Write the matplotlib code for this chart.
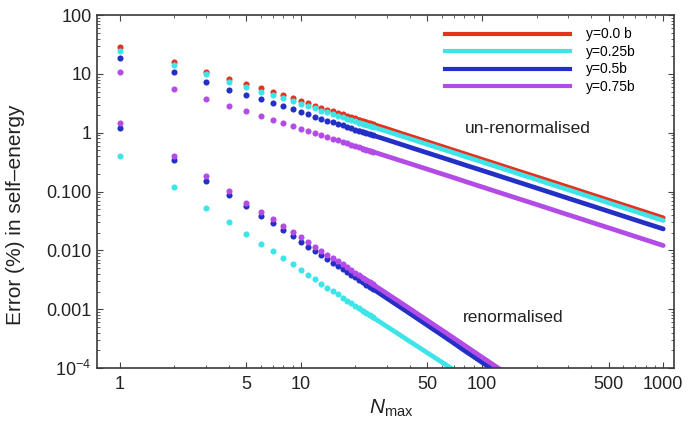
import numpy as np
import matplotlib
matplotlib.use("Agg")
import matplotlib.pyplot as plt
from matplotlib.lines import Line2D
from matplotlib.ticker import FixedLocator, FixedFormatter, NullFormatter

plt.rcParams['font.family'] = ['Liberation Sans', 'DejaVu Sans']
plt.rcParams['mathtext.fontset'] = 'custom'
plt.rcParams['mathtext.rm'] = 'Liberation Sans'
plt.rcParams['mathtext.it'] = 'Liberation Sans:italic'

# N values (every integer up to 25, then sampled)
n_max = [1, 2, 3, 4, 5, 6, 7, 8, 9, 10, 11, 12, 13, 14, 15, 16, 17, 18, 19, 20,
         21, 22, 23, 24, 25, 30, 35, 40, 50, 60, 70, 80, 100, 120, 150, 200,
         300, 500, 700, 1000]

# un-renormalised error (%)
unren_y00 = [28.2, 15.9, 11.0, 8.2, 6.7, 5.7, 4.9, 4.31, 3.84, 3.46, 3.15, 2.89,
             2.67, 2.48, 2.32, 2.17, 2.05, 1.94, 1.84, 1.75, 1.67, 1.59, 1.52,
             1.46, 1.40, 1.17, 1.00, 0.877, 0.703, 0.587, 0.503, 0.441, 0.353,
             0.295, 0.236, 0.178, 0.119, 0.0714, 0.0511, 0.0358]
unren_y025 = [24.7, 14.1, 10.0, 7.3, 6.0, 5.0, 4.4, 3.86, 3.44, 3.10, 2.82, 2.59,
              2.39, 2.22, 2.08, 1.95, 1.83, 1.73, 1.64, 1.56, 1.49, 1.42, 1.36,
              1.30, 1.25, 1.05, 0.90, 0.79, 0.634, 0.53, 0.455, 0.398, 0.319,
              0.266, 0.213, 0.160, 0.107, 0.0643, 0.0459, 0.0322]
unren_y05 = [19.0, 10.6, 7.2, 5.4, 4.4, 3.7, 3.2, 2.81, 2.50, 2.25, 2.05, 1.88,
             1.74, 1.61, 1.51, 1.41, 1.33, 1.26, 1.19, 1.13, 1.08, 1.03, 0.984,
             0.943, 0.906, 0.756, 0.649, 0.568, 0.455, 0.380, 0.326, 0.285,
             0.229, 0.191, 0.153, 0.115, 0.0767, 0.0462, 0.0330, 0.0232]
unren_y075 = [10.9, 5.6, 3.8, 2.9, 2.36, 1.94, 1.68, 1.47, 1.31, 1.18, 1.07,
              0.985, 0.910, 0.845, 0.790, 0.740, 0.697, 0.658, 0.624, 0.593,
              0.565, 0.540, 0.516, 0.495, 0.475, 0.397, 0.341, 0.299, 0.240,
              0.200, 0.172, 0.150, 0.120, 0.100, 0.0802, 0.0603, 0.0402,
              0.0242, 0.0173, 0.0121]

# renormalised error (%), values far below 1e-4 are off the axis
ren_y025 = [0.41, 0.119, 0.052, 0.030, 0.019, 0.0131, 0.0098, 0.00737, 0.00580,
            0.00468, 0.00385, 0.00322, 0.00273, 0.00234, 0.00204, 0.00179,
            0.00158, 0.00140, 0.00126, 0.00114, 0.00103, 0.000940, 0.000860,
            0.000789, 0.000727, 0.000504, 0.000370, 0.000283, 0.000181,
            0.000126, 9.25e-5, 7.08e-5, 4.53e-5, 3.1e-5, 2.0e-5, 1.1e-5,
            5e-6, 2e-6, 1e-6, 5e-7]
ren_y05 = [1.21, 0.34, 0.152, 0.088, 0.056, 0.039, 0.0287, 0.0220, 0.0174,
           0.0141, 0.01163, 0.00976, 0.00830, 0.00714, 0.00620, 0.00545,
           0.00482, 0.00430, 0.00385, 0.00347, 0.00314, 0.00286, 0.00261,
           0.00240, 0.00221, 0.00152, 0.00111, 0.000845, 0.000532, 0.000365,
           0.000264, 0.000198, 0.000125, 8.61e-5, 5.47e-5, 3.0e-5, 1.3e-5,
           4.5e-6, 2.3e-6, 1.1e-6]
ren_y075 = [1.47, 0.40, 0.183, 0.103, 0.064, 0.045, 0.034, 0.0261, 0.0206,
            0.0167, 0.0138, 0.0116, 0.00988, 0.00852, 0.00742, 0.00652,
            0.00578, 0.00515, 0.00462, 0.00416, 0.00377, 0.00343, 0.00314,
            0.00288, 0.00265, 0.00183, 0.00134, 0.00102, 0.000644, 0.000443,
            0.000322, 0.000244, 0.000153, 0.000105, 6.67e-5, 3.7e-5, 1.6e-5,
            5.6e-6, 2.8e-6, 1.4e-6]

labels = ['y=0.0 b', 'y=0.25b', 'y=0.5b', 'y=0.75b']
colors = ['#e5321f', '#3fe4e8', '#2330c6', '#b34be6']

y_ticks = [1e-4, 1e-3, 1e-2, 1e-1, 1, 10, 100]
y_ticklabels = ['$10^{-4}$', '0.001', '0.010', '0.100', '1', '10', '100']
x_ticks = [1, 5, 10, 50, 100, 500, 1000]
x_ticklabels = ['1', '5', '10', '50', '100', '500', '1000']

n = np.array(n_max)


def draw_series(ax, vals, color):
    vals = np.array(vals)
    dots = n <= 25
    ax.plot(n[dots], vals[dots], 'o', color=color, ms=4.4, mec='none')
    # past ~N=20 the dots overlap into a continuous band
    tail = n >= 21
    ax.plot(n[tail], vals[tail], '-', color=color, lw=3.4,
            solid_capstyle='round')


fig = plt.figure(figsize=(6.88, 4.32), dpi=100)
ax = fig.add_axes([0.141, 0.148, 0.839, 0.817])

for vals, c in zip([unren_y00, unren_y025, unren_y05, unren_y075], colors):
    draw_series(ax, vals, c)
for vals, c in zip([ren_y025, ren_y05, ren_y075], colors[1:]):
    draw_series(ax, vals, c)

ax.set_xscale('log')
ax.set_yscale('log')
ax.set_xlim(0.75, 1150)
ax.set_ylim(1e-4, 100)

ax.xaxis.set_major_locator(FixedLocator(x_ticks))
ax.xaxis.set_major_formatter(FixedFormatter(x_ticklabels))
x_minor = [m * d for d in [1, 10, 100] for m in range(2, 10) if m != 5]
ax.xaxis.set_minor_locator(FixedLocator(x_minor))
ax.xaxis.set_minor_formatter(NullFormatter())
ax.yaxis.set_major_locator(FixedLocator(y_ticks))
ax.yaxis.set_major_formatter(FixedFormatter(y_ticklabels))
y_minor = [m * d for d in [1e-4, 1e-3, 1e-2, 1e-1, 1, 10] for m in range(2, 10)]
ax.yaxis.set_minor_locator(FixedLocator(y_minor))
ax.yaxis.set_minor_formatter(NullFormatter())

ax.tick_params(which='both', direction='in', top=True, right=True,
               colors='#444444', labelcolor='#222222')
ax.tick_params(which='major', length=4, width=0.8, labelsize=13)
ax.tick_params(which='minor', length=2, width=0.6)
ax.tick_params(axis='x', pad=6)
ax.tick_params(axis='y', pad=4)
for s in ax.spines.values():
    s.set_color('#3a3a3a')
    s.set_linewidth(1.2)

ax.set_ylabel('Error (%) in self\u2013energy', fontsize=15, color='#222222')
ax.yaxis.set_label_coords(-0.125, 0.433)
ax.set_xlabel('$N_{\\rm max}$', fontsize=15, color='#222222')
ax.xaxis.set_label_coords(0.51, -0.085)

ax.text(0.638, 0.680, 'un-renormalised', transform=ax.transAxes,
        fontsize=12.5, va='center', color='#222222')
ax.text(0.634, 0.1445, 'renormalised', transform=ax.transAxes,
        fontsize=12.5, va='center', color='#222222')

handles = [Line2D([], [], color=c, lw=3) for c in colors]
ax.legend(handles, labels, loc='upper left', bbox_to_anchor=(0.603, 0.965),
          frameon=False, fontsize=10, handlelength=9, handletextpad=1.15,
          labelspacing=0.25, borderaxespad=0, borderpad=0)

fig.savefig('out.png', dpi=100)
